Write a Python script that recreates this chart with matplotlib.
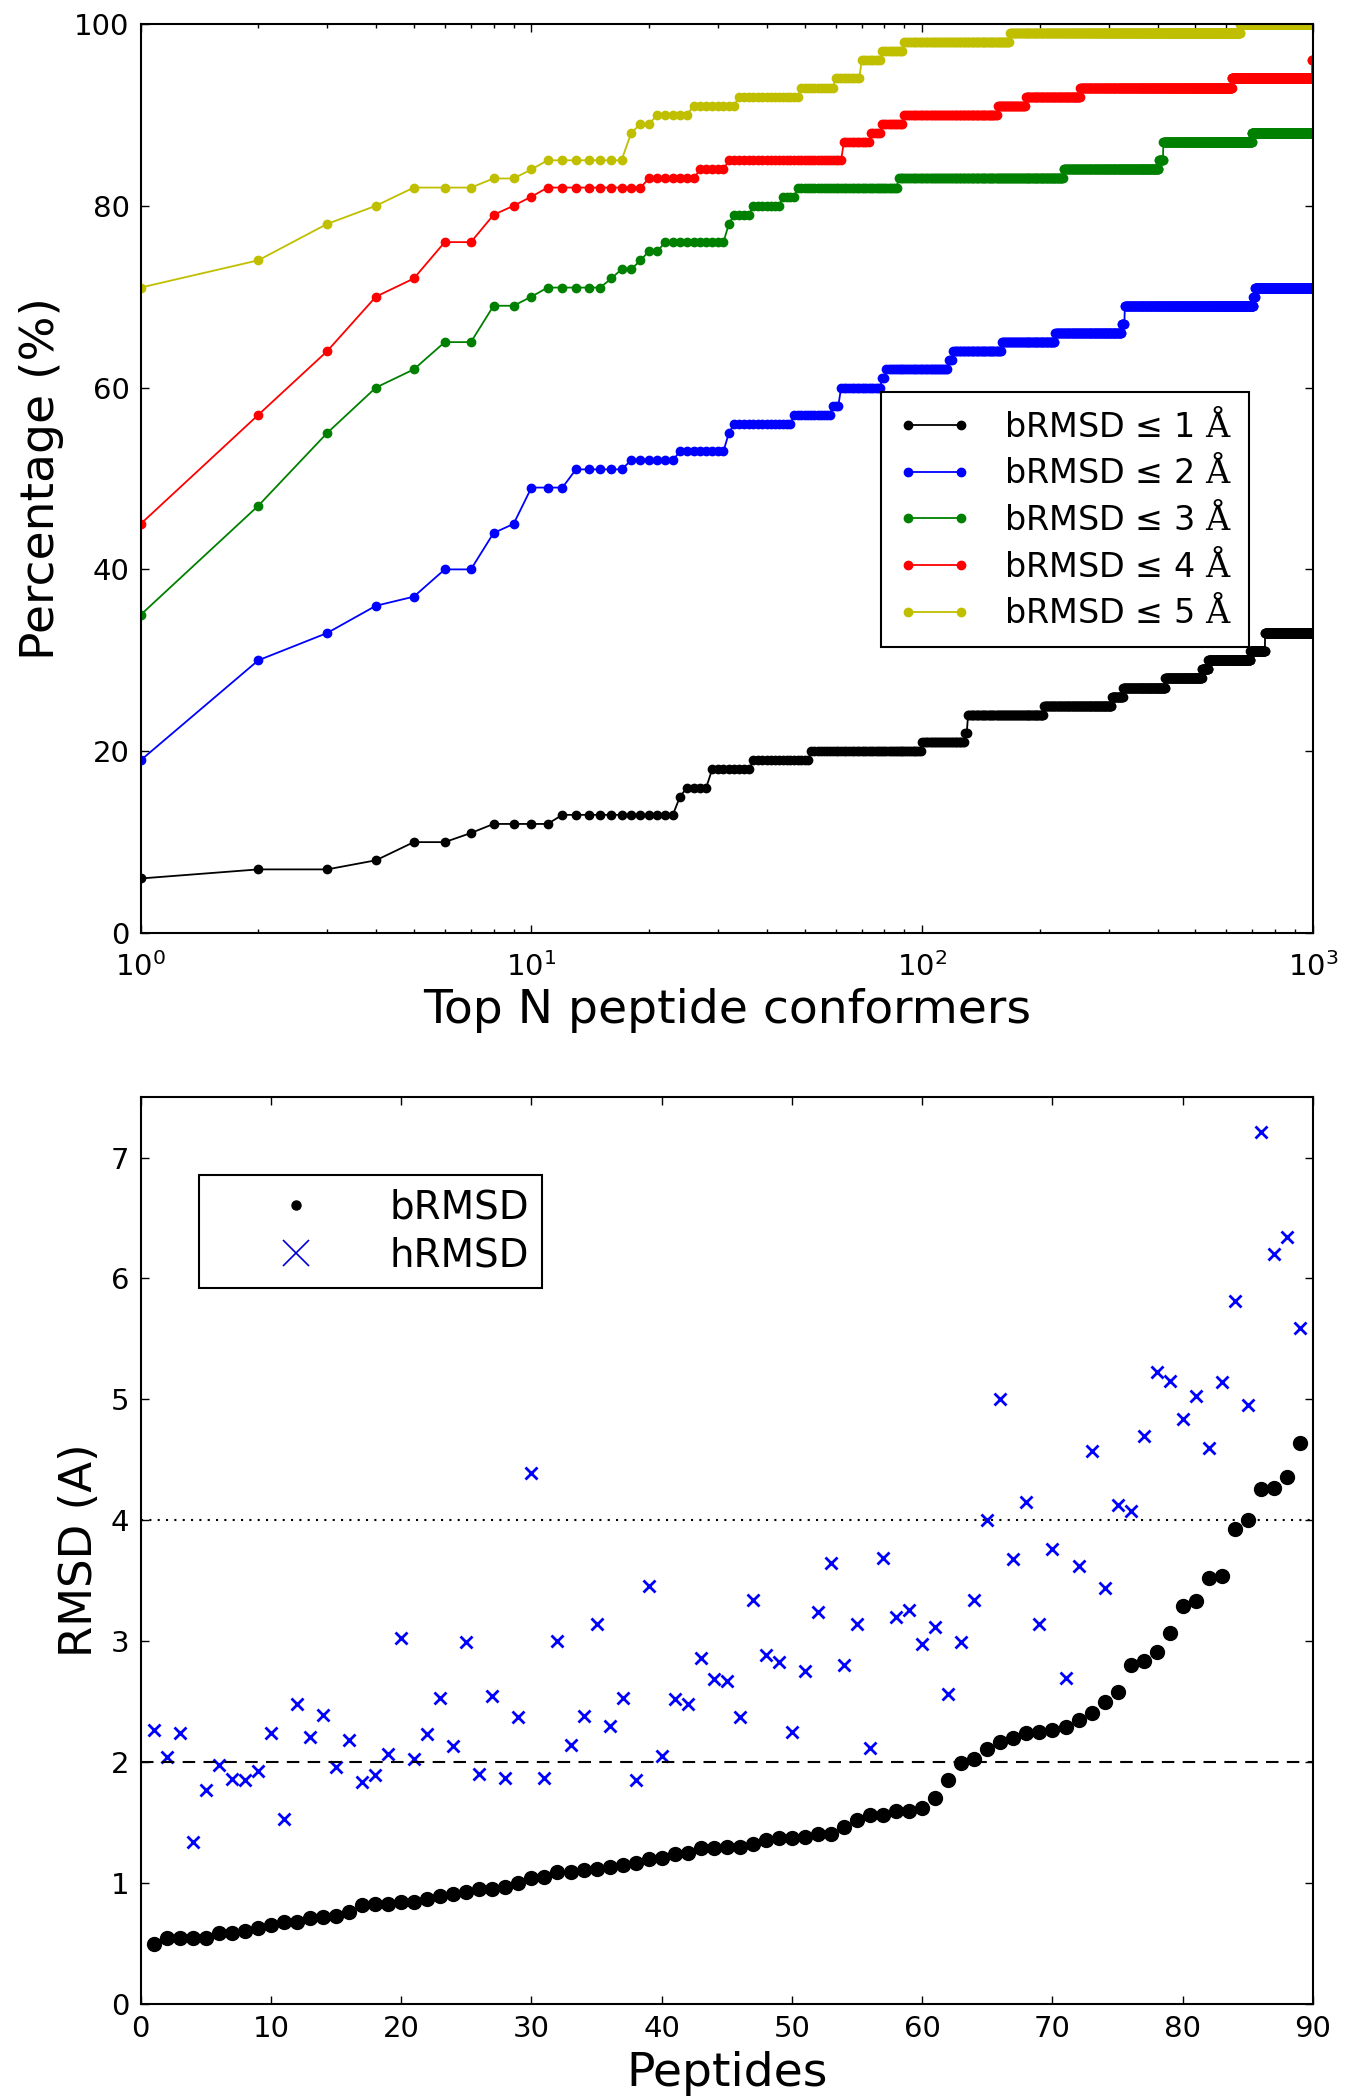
import matplotlib
matplotlib.use('Agg')
import matplotlib.pyplot as plt
from matplotlib.lines import Line2D
import numpy as np

plt.rcParams['mathtext.fontset'] = 'dejavuserif'
plt.rcParams['mathtext.default'] = 'regular'

# ---- top panel: cumulative % of peptides vs top N conformers (step data) ----
# each series given as (first N where value applies, percentage)
b1_start = [1, 2, 4, 5, 7, 8, 12, 24, 25, 29, 37, 52, 100, 129, 131, 205, 306, 327, 419, 520, 540, 691, 754]
b1_pct = [6, 7, 8, 10, 11, 12, 13, 15, 16, 18, 19, 20, 21, 22, 24, 25, 26, 27, 28, 29, 30, 31, 33]

b2_start = [1, 2, 3, 4, 5, 6, 8, 9, 10, 13, 18, 24, 32, 33, 47, 59, 62, 79, 81, 117, 120, 160, 219, 324, 330, 704, 711]
b2_pct = [19, 30, 33, 36, 37, 40, 44, 45, 49, 51, 52, 53, 55, 56, 57, 58, 60, 61, 62, 63, 64, 65, 66, 67, 69, 70, 71]

b3_start = [1, 2, 3, 4, 5, 6, 8, 10, 11, 16, 17, 19, 20, 22, 32, 33, 37, 44, 48, 87, 230, 403, 414, 698]
b3_pct = [35, 47, 55, 60, 62, 65, 69, 70, 71, 72, 73, 74, 75, 76, 78, 79, 80, 81, 82, 83, 84, 85, 87, 88]

b4_start = [1, 2, 3, 4, 5, 6, 8, 9, 10, 11, 20, 27, 32, 63, 74, 79, 90, 156, 184, 254, 620, 995]
b4_pct = [45, 57, 64, 70, 72, 76, 79, 80, 81, 82, 83, 84, 85, 87, 88, 89, 90, 91, 92, 93, 94, 96]

b5_start = [1, 2, 3, 4, 5, 8, 10, 11, 18, 19, 21, 26, 34, 49, 60, 70, 79, 90, 168, 651]
b5_pct = [71, 74, 78, 80, 82, 83, 84, 85, 88, 89, 90, 91, 92, 93, 94, 96, 97, 98, 99, 100]

topN = np.arange(1, 1001)

# ---- bottom panel: per-peptide RMSD ----
peptide = np.arange(1, 90)
brmsd = [0.50, 0.55, 0.55, 0.55, 0.55, 0.59, 0.59, 0.60, 0.63, 0.65,
         0.68, 0.68, 0.71, 0.72, 0.73, 0.76, 0.82, 0.83, 0.83, 0.84,
         0.84, 0.87, 0.89, 0.91, 0.93, 0.95, 0.95, 0.97, 1.00, 1.04,
         1.05, 1.09, 1.09, 1.11, 1.12, 1.13, 1.15, 1.17, 1.20, 1.21,
         1.24, 1.25, 1.29, 1.29, 1.30, 1.30, 1.32, 1.36, 1.37, 1.37,
         1.38, 1.41, 1.41, 1.46, 1.52, 1.56, 1.56, 1.60, 1.60, 1.62,
         1.70, 1.85, 1.99, 2.03, 2.11, 2.17, 2.20, 2.24, 2.25, 2.27,
         2.29, 2.35, 2.41, 2.50, 2.58, 2.80, 2.84, 2.91, 3.07, 3.29,
         3.33, 3.52, 3.54, 3.93, 4.00, 4.26, 4.27, 4.36, 4.64]
hrmsd = [2.27, 2.04, 2.24, 1.34, 1.77, 1.98, 1.86, 1.85, 1.93, 2.24,
         1.53, 2.48, 2.21, 2.39, 1.96, 2.18, 1.84, 1.89, 2.07, 3.03,
         2.03, 2.23, 2.53, 2.13, 2.99, 1.90, 2.55, 1.87, 2.37, 4.39,
         1.87, 3.00, 2.14, 2.38, 3.14, 2.30, 2.53, 1.85, 3.46, 2.05,
         2.52, 2.48, 2.86, 2.69, 2.67, 2.37, 3.34, 2.89, 2.83, 2.25,
         2.75, 3.24, 3.65, 2.80, 3.14, 2.12, 3.69, 3.20, 3.26, 2.98,
         3.12, 2.56, 2.99, 3.34, 4.00, 5.00, 3.68, 4.15, 3.14, 3.76,
         2.70, 3.62, 4.57, 3.44, 4.13, 4.08, 4.70, 5.23, 5.15, 4.84,
         5.03, 4.60, 5.14, 5.81, 4.95, 7.21, 6.20, 6.34, 5.59]


def expand(starts, vals):
    idx = np.searchsorted(starts, topN, side='right') - 1
    return np.array(vals)[idx]


fig = plt.figure(figsize=(13.46, 21.0), dpi=100)

ax1 = fig.add_axes([0.1045, 0.5557, 0.871, 0.4329])
series = [(b1_start, b1_pct, 'k', u'bRMSD \u2264 1 $\\mathrm{\\AA}$'),
          (b2_start, b2_pct, 'b', u'bRMSD \u2264 2 $\\mathrm{\\AA}$'),
          (b3_start, b3_pct, 'g', u'bRMSD \u2264 3 $\\mathrm{\\AA}$'),
          (b4_start, b4_pct, 'r', u'bRMSD \u2264 4 $\\mathrm{\\AA}$'),
          (b5_start, b5_pct, 'y', u'bRMSD \u2264 5 $\\mathrm{\\AA}$')]
for st, pc, col, lab in series:
    ax1.plot(topN, expand(st, pc), '-o', color=col, lw=1.3, ms=6,
             mec=col, label=lab)
ax1.set_xscale('log')
ax1.set_xlim(1, 1000)
ax1.set_ylim(0, 100)
ax1.set_yticks([0, 20, 40, 60, 80, 100])
ax1.set_xlabel('Top N peptide conformers', fontsize=34, labelpad=4)
ax1.set_ylabel('Percentage (%)', fontsize=34, labelpad=7)
leg1 = ax1.legend(loc='upper left', bbox_to_anchor=(0.6315, 0.595),
                  borderaxespad=0, fontsize=24, numpoints=2,
                  handlelength=2.2, handletextpad=1.0, borderpad=0.5,
                  labelspacing=0.35, fancybox=False, framealpha=1,
                  edgecolor='k')
leg1.get_frame().set_linewidth(1.5)

ax2 = fig.add_axes([0.1045, 0.0457, 0.871, 0.4319])
ax2.plot(peptide, brmsd, 'o', color='k', ms=10, label='bRMSD')
ax2.plot(peptide, hrmsd, 'x', color='b', ms=8, mew=2, label='hRMSD')
ax2.axhline(2, color='k', lw=1.5, ls=(0, (6, 4)))
ax2.axhline(4, color='k', lw=1.5, ls=(0, (1, 3)))
ax2.set_xlim(0, 90)
ax2.set_ylim(0, 7.5)
ax2.set_xticks(range(0, 91, 10))
ax2.set_yticks(range(0, 8))
ax2.set_xlabel('Peptides', fontsize=34, labelpad=6)
ax2.set_ylabel('RMSD (A)', fontsize=32.5, labelpad=7)
handles = [Line2D([], [], ls='none', marker='o', ms=6.5, color='k'),
           Line2D([], [], ls='none', marker='x', ms=19, mew=1.2, color='#0000cc')]
leg2 = ax2.legend(handles, ['bRMSD', 'hRMSD'], loc='upper left',
                  bbox_to_anchor=(0.0495, 0.914), borderaxespad=0,
                  fontsize=28, numpoints=1, handlelength=4.3,
                  handletextpad=0.25, borderpad=0.35, labelspacing=0.26,
                  fancybox=False, framealpha=1, edgecolor='k')
leg2.get_frame().set_linewidth(1.5)

for ax in (ax1, ax2):
    ax.tick_params(which='both', direction='in', top=True, right=True,
                   labelsize=21, pad=8)
    ax.tick_params(which='major', length=6, width=1)
    ax.tick_params(which='minor', length=3, width=1)
    for sp in ax.spines.values():
        sp.set_linewidth(1.5)
ax1.tick_params(axis='x', which='both', pad=14)

fig.savefig('out.png', dpi=100)
